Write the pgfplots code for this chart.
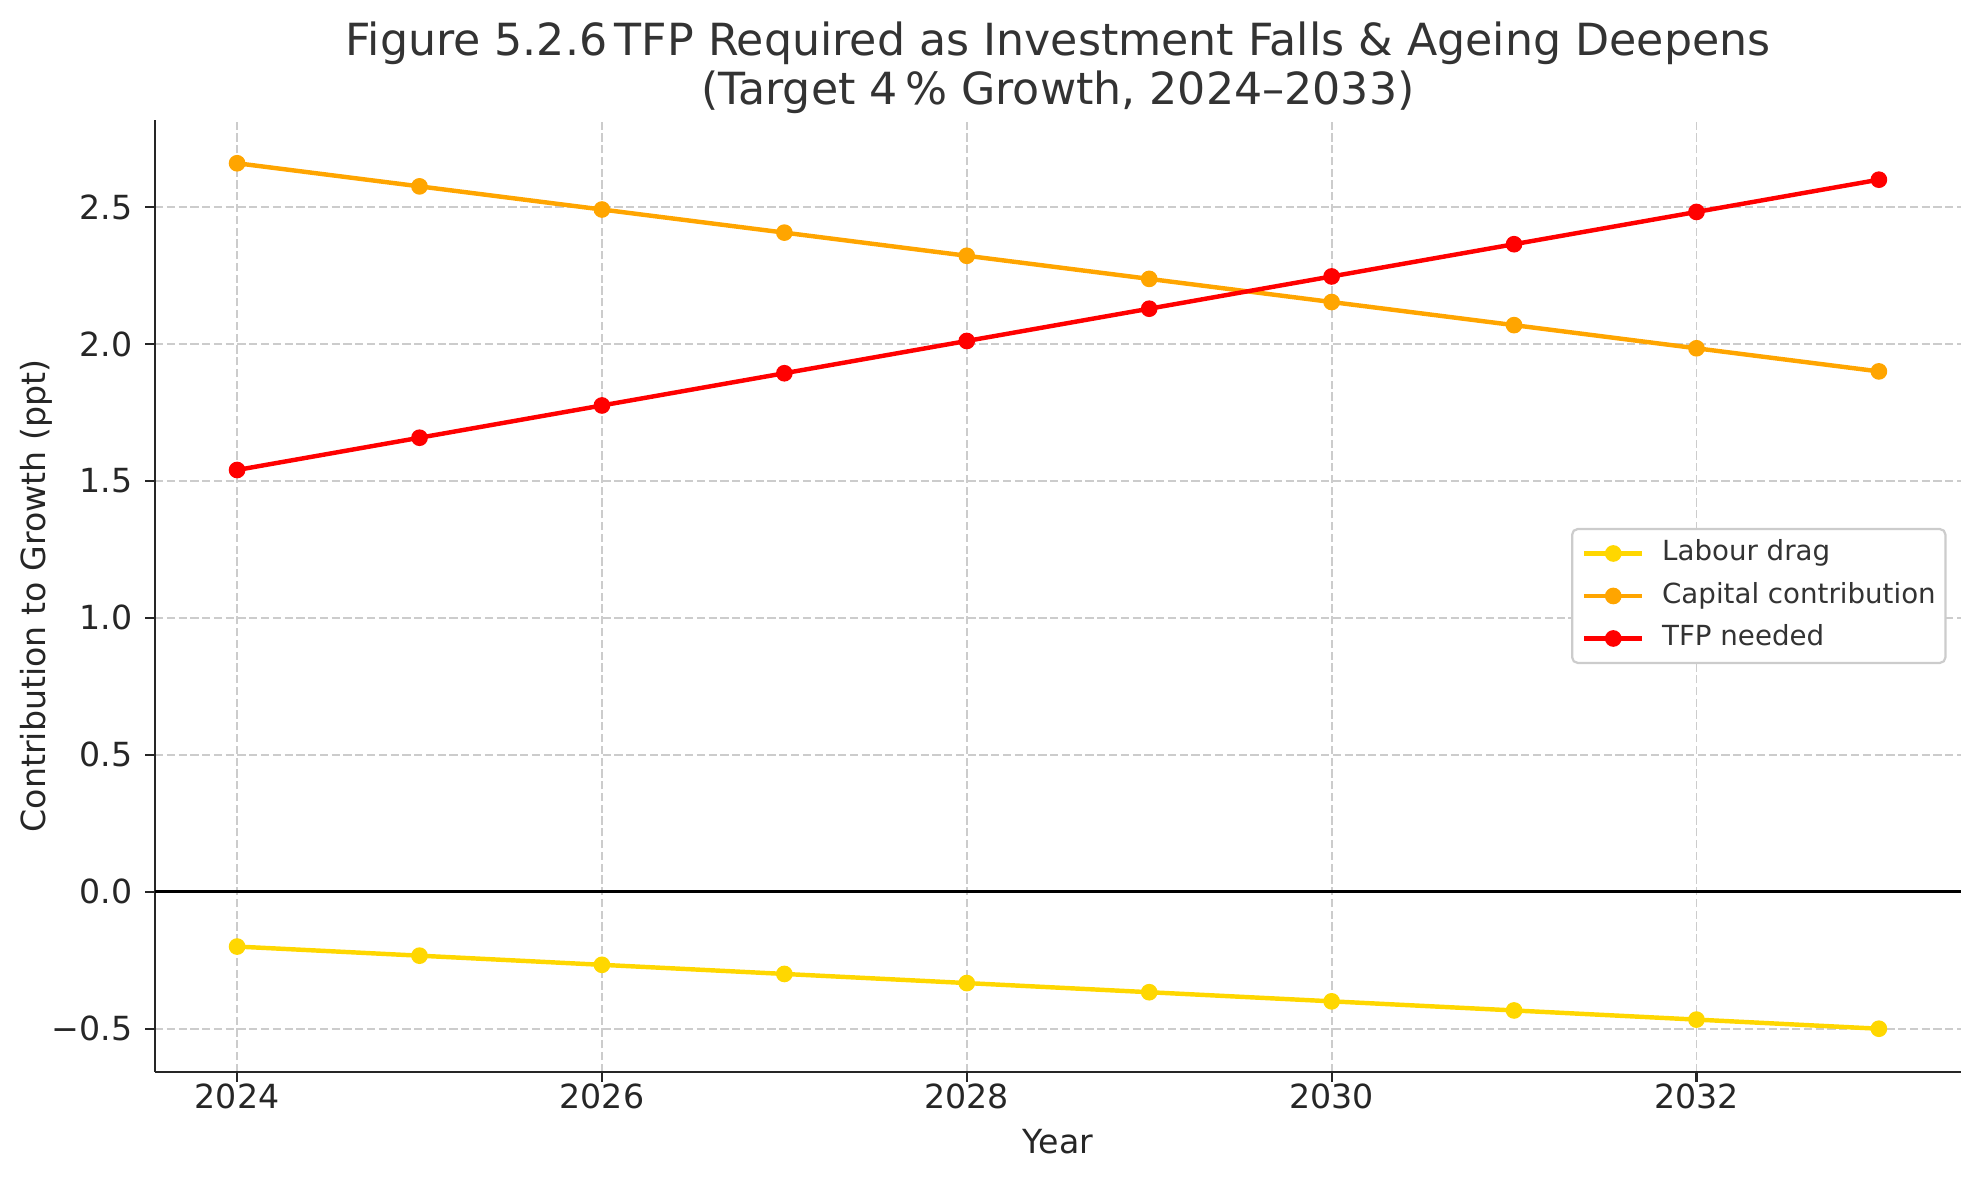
\documentclass[border=0pt]{standalone}
\usepackage{pgfplots}
\pgfplotsset{compat=1.18}
\usepackage{fontspec}
\setmainfont{DejaVu Sans}
\definecolor{labour}{HTML}{FFD700}
\definecolor{capital}{HTML}{FFA500}
\definecolor{tfp}{HTML}{FF0000}
\definecolor{spine}{HTML}{262626}
\definecolor{gridc}{HTML}{CCCCCC}
\definecolor{txt}{HTML}{333333}
\begin{document}
\begin{tikzpicture}
\path[use as bounding box] (-55.8bp,-38.52bp) rectangle (657bp,385.92bp);
\begin{axis}[
  at={(0,0)}, anchor=south west,
  scale only axis, width=650.16bp, height=342.72bp,
  xmin=2023.55, xmax=2033.45, ymin=-0.658, ymax=2.818,
  axis x line*=bottom, axis y line*=left,
  axis line style={spine, line width=1bp, -},
  xtick={2024,2026,2028,2030,2032},
  xticklabels={2024,2026,2028,2030,2032},
  ytick={-0.5,0,0.5,1,1.5,2,2.5},
  yticklabels={−0.5,0.0,0.5,1.0,1.5,2.0,2.5},
  tick align=outside, major tick length=3.6bp,
  tick style={spine, line width=0.8bp},
  ticklabel style={font=\fontsize{12}{14}\selectfont, text=spine},
  xticklabel style={anchor=base, yshift=-9.7bp},
  yticklabel style={anchor=east, inner sep=0pt, xshift=-4.3bp},
  grid=major,
  major grid style={gridc, line width=0.7bp, dash pattern=on 2.96bp off 1.28bp},
  xlabel={Year},
  xlabel style={at={(axis description cs:0.5,-0.0851)}, anchor=base, font=\fontsize{12}{14}\selectfont, text=spine},
  ylabel={Contribution to Growth (ppt)},
  ylabel style={at={(axis description cs:-0.0609,0.5)}, anchor=base, font=\fontsize{12}{14}\selectfont, text=spine},
  title={Figure 5.2.6\,TFP Required as Investment Falls \& Ageing Deepens\\(Target 4\,\% Growth, 2024–2033)},
  title style={font=\fontsize{16}{17.6}\selectfont, text=txt, align=center, at={(0.5,1)}, anchor=south, inner sep=0pt, yshift=-3.8bp},
  legend style={at={(0.992,0.5)}, anchor=east, font=\fontsize{10}{12}\selectfont, text=txt,
    draw=gridc, rounded corners=2bp, line width=0.8bp, fill=white,
    inner xsep=3.5bp, inner ysep=3.9bp, row sep=5.5bp, column sep=6.3bp,
    nodes={inner sep=0pt, text height=7.6bp, text depth=2.2bp}},
  legend cell align=left,
  legend image code/.code={\draw[mark repeat=2,mark phase=2] plot coordinates {(0bp,0bp)(10.5bp,0bp)(21bp,0bp)};},
  every axis plot/.append style={line width=1.6bp, mark=*, mark size=2.75bp},
]
\addplot[black, line width=1bp, mark=none, forget plot] coordinates {(2023.55,0) (2033.45,0)};
\addplot[labour, mark options={solid, fill=labour, draw=labour, line width=0.5bp}] coordinates {
(2024,-0.2) (2025,-0.2333) (2026,-0.2667) (2027,-0.3) (2028,-0.3333)
(2029,-0.3667) (2030,-0.4) (2031,-0.4333) (2032,-0.4667) (2033,-0.5)};
\addlegendentry{Labour drag}
\addplot[capital, mark options={solid, fill=capital, draw=capital, line width=0.5bp}] coordinates {
(2024,2.66) (2025,2.5756) (2026,2.4911) (2027,2.4067) (2028,2.3222)
(2029,2.2378) (2030,2.1533) (2031,2.0689) (2032,1.9844) (2033,1.9)};
\addlegendentry{Capital contribution}
\addplot[tfp, mark options={solid, fill=tfp, draw=tfp, line width=0.5bp}] coordinates {
(2024,1.54) (2025,1.6578) (2026,1.7756) (2027,1.8933) (2028,2.0111)
(2029,2.1289) (2030,2.2467) (2031,2.3644) (2032,2.4822) (2033,2.6)};
\addlegendentry{TFP needed}
\end{axis}
\end{tikzpicture}
\end{document}
